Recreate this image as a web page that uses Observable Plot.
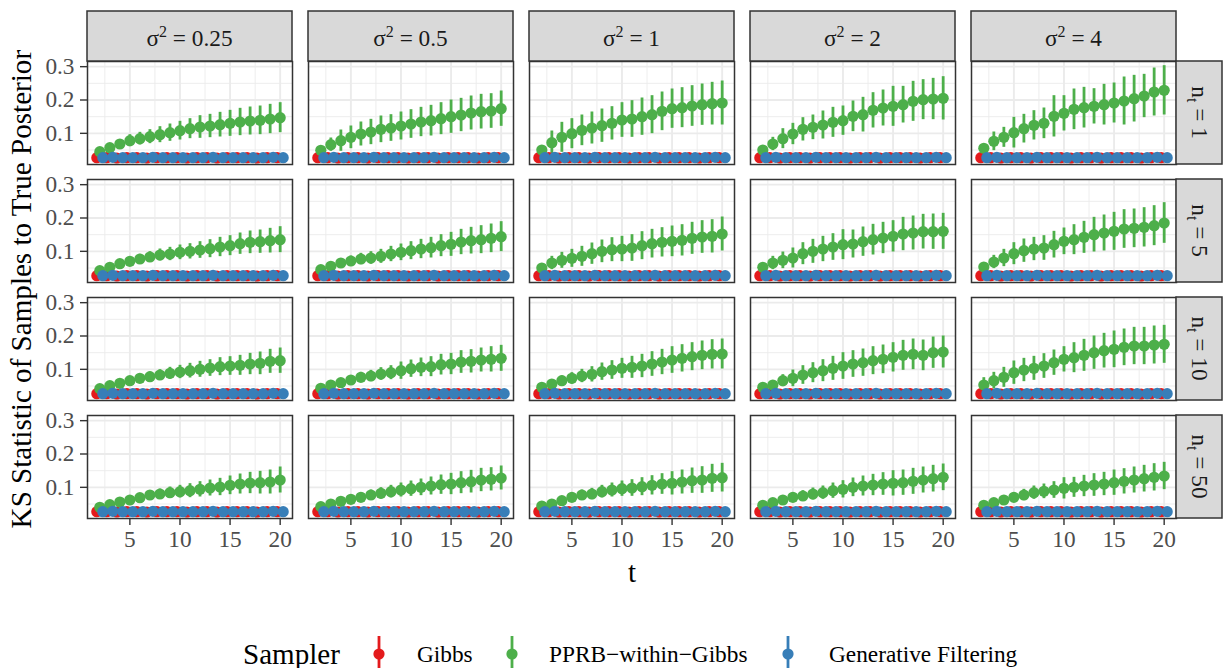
<!DOCTYPE html>
<html><head><meta charset="utf-8">
<script src="https://cdn.jsdelivr.net/npm/d3@7"></script>
<script src="https://cdn.jsdelivr.net/npm/@observablehq/plot@0.6"></script>
<style>
html,body{margin:0;padding:0;background:#fff;overflow:hidden;}
body{width:1225px;height:668px;font-family:"Liberation Serif",serif;}
#chart svg{display:block;}
#legend{position:relative;width:1225px;height:56px;}
#legend .item{position:absolute;top:0;height:56px;display:flex;align-items:center;white-space:nowrap;color:#000;}
</style></head><body>
<div id="chart"></div><div id="legend"></div>
<script>
// ---- categories / ticks ----
const sigmaLevels = ["0.25", "0.5", "1", "2", "4"];
const nLevels = ["1", "5", "10", "50"];
const tValues = [2, 3, 4, 5, 6, 7, 8, 9, 10, 11, 12, 13, 14, 15, 16, 17, 18, 19, 20];
const samplers = ["Gibbs", "PPRB\u2212within\u2212Gibbs", "Generative Filtering"];
const samplerColors = ["#E41A1C", "#4DAF4A", "#377EB8"];
const xTicks = [5, 10, 15, 20];
const xMinor = [2.5, 7.5, 12.5, 17.5];
const yTicks = [0.1, 0.2, 0.3];
const yMinor = [0.05, 0.15, 0.25];

// ---- Gibbs & Generative Filtering (same in every panel) ----
const gibbsMean = [0.027,0.027,0.026,0.027,0.027,0.026,0.027,0.027,0.027,0.026,0.027,0.027,0.026,0.027,0.027,0.027,0.026,0.027,0.027];
const gibbsErr  = [0.001,0.001,0.001,0.001,0.001,0.001,0.001,0.001,0.001,0.001,0.001,0.001,0.001,0.001,0.001,0.001,0.001,0.001,0.001];
const gfMean    = [0.027,0.028,0.027,0.027,0.027,0.028,0.027,0.027,0.027,0.027,0.027,0.028,0.027,0.027,0.027,0.027,0.027,0.028,0.027];
const gfErr     = [0.001,0.001,0.001,0.001,0.001,0.001,0.001,0.001,0.001,0.001,0.001,0.001,0.001,0.001,0.001,0.001,0.001,0.001,0.001];

// ---- PPRB-within-Gibbs means / half-widths, one row per sigma^2 (0.25, 0.5, 1, 2, 4) ----
const pprbMeanN1 = [
  [0.045,0.057,0.068,0.078,0.084,0.090,0.096,0.102,0.108,0.114,0.119,0.122,0.126,0.130,0.134,0.137,0.139,0.143,0.147],
  [0.049,0.066,0.078,0.088,0.098,0.104,0.112,0.116,0.122,0.128,0.134,0.138,0.144,0.150,0.155,0.161,0.165,0.167,0.174],
  [0.050,0.072,0.088,0.099,0.109,0.116,0.123,0.130,0.140,0.143,0.150,0.156,0.166,0.174,0.177,0.182,0.186,0.189,0.191],
  [0.050,0.068,0.084,0.098,0.112,0.118,0.125,0.133,0.138,0.151,0.156,0.169,0.176,0.181,0.186,0.196,0.201,0.203,0.205],
  [0.055,0.076,0.088,0.102,0.114,0.124,0.130,0.151,0.160,0.172,0.177,0.181,0.186,0.191,0.197,0.204,0.212,0.224,0.229]
];
const pprbErrN1 = [
  [0.005,0.008,0.013,0.018,0.019,0.021,0.024,0.026,0.028,0.030,0.034,0.035,0.037,0.039,0.041,0.042,0.043,0.044,0.045],
  [0.010,0.020,0.032,0.034,0.036,0.038,0.040,0.040,0.042,0.043,0.044,0.046,0.048,0.050,0.050,0.051,0.052,0.052,0.053],
  [0.012,0.035,0.045,0.045,0.046,0.048,0.050,0.050,0.052,0.055,0.056,0.057,0.058,0.059,0.060,0.061,0.062,0.064,0.066],
  [0.010,0.020,0.030,0.032,0.035,0.037,0.042,0.045,0.044,0.046,0.052,0.053,0.054,0.060,0.055,0.060,0.060,0.062,0.065],
  [0.012,0.028,0.030,0.046,0.043,0.044,0.046,0.062,0.053,0.061,0.061,0.053,0.061,0.060,0.072,0.070,0.065,0.072,0.074]
];
const pprbMeanN5 = [
  [0.042,0.052,0.063,0.070,0.077,0.083,0.089,0.092,0.097,0.100,0.104,0.108,0.113,0.117,0.123,0.127,0.129,0.132,0.135],
  [0.045,0.055,0.065,0.071,0.077,0.080,0.085,0.092,0.097,0.102,0.107,0.111,0.117,0.121,0.128,0.132,0.135,0.139,0.144],
  [0.050,0.065,0.073,0.079,0.085,0.093,0.100,0.105,0.107,0.110,0.117,0.123,0.127,0.130,0.133,0.139,0.143,0.145,0.152],
  [0.052,0.065,0.073,0.080,0.093,0.100,0.107,0.113,0.120,0.122,0.129,0.135,0.140,0.145,0.152,0.155,0.159,0.159,0.160],
  [0.053,0.068,0.080,0.093,0.102,0.107,0.110,0.120,0.130,0.135,0.142,0.150,0.155,0.160,0.167,0.169,0.172,0.177,0.185]
];
const pprbErrN5 = [
  [0.005,0.007,0.009,0.012,0.014,0.016,0.018,0.020,0.022,0.023,0.025,0.027,0.029,0.030,0.032,0.034,0.035,0.037,0.039],
  [0.006,0.009,0.012,0.015,0.017,0.019,0.021,0.023,0.025,0.027,0.029,0.031,0.033,0.036,0.038,0.040,0.042,0.043,0.045],
  [0.010,0.020,0.024,0.027,0.030,0.032,0.034,0.036,0.038,0.040,0.042,0.043,0.044,0.046,0.047,0.048,0.049,0.050,0.051],
  [0.010,0.020,0.025,0.030,0.033,0.036,0.038,0.040,0.045,0.042,0.044,0.046,0.047,0.047,0.050,0.051,0.052,0.053,0.054],
  [0.010,0.020,0.026,0.033,0.035,0.035,0.037,0.040,0.040,0.045,0.048,0.052,0.054,0.057,0.058,0.058,0.059,0.060,0.061]
];
const pprbMeanN10 = [
  [0.042,0.051,0.058,0.066,0.073,0.078,0.083,0.088,0.092,0.096,0.100,0.104,0.108,0.110,0.112,0.116,0.118,0.124,0.126],
  [0.043,0.053,0.060,0.068,0.076,0.080,0.086,0.090,0.096,0.102,0.106,0.108,0.114,0.116,0.122,0.124,0.128,0.130,0.133],
  [0.046,0.056,0.066,0.073,0.080,0.085,0.093,0.098,0.103,0.106,0.110,0.116,0.122,0.128,0.133,0.138,0.142,0.145,0.146],
  [0.046,0.053,0.066,0.073,0.083,0.090,0.096,0.103,0.110,0.116,0.120,0.126,0.130,0.136,0.142,0.145,0.142,0.150,0.152],
  [0.053,0.066,0.076,0.090,0.098,0.103,0.110,0.120,0.130,0.135,0.142,0.150,0.156,0.160,0.166,0.170,0.170,0.173,0.175]
];
const pprbErrN10 = [
  [0.004,0.006,0.008,0.010,0.012,0.014,0.016,0.018,0.020,0.022,0.024,0.025,0.027,0.028,0.030,0.032,0.034,0.036,0.038],
  [0.005,0.007,0.010,0.013,0.015,0.017,0.019,0.021,0.026,0.026,0.028,0.030,0.031,0.032,0.034,0.035,0.036,0.038,0.039],
  [0.006,0.010,0.014,0.017,0.020,0.023,0.026,0.028,0.030,0.033,0.035,0.037,0.038,0.040,0.041,0.042,0.043,0.044,0.045],
  [0.008,0.012,0.018,0.025,0.028,0.030,0.033,0.036,0.040,0.040,0.041,0.042,0.043,0.044,0.045,0.046,0.046,0.047,0.048],
  [0.022,0.025,0.030,0.035,0.035,0.036,0.037,0.038,0.038,0.045,0.048,0.050,0.052,0.055,0.055,0.056,0.056,0.057,0.057]
];
const pprbMeanN50 = [
  [0.040,0.048,0.056,0.062,0.069,0.077,0.080,0.084,0.087,0.090,0.094,0.098,0.101,0.106,0.110,0.113,0.114,0.116,0.122],
  [0.042,0.050,0.058,0.064,0.070,0.077,0.082,0.087,0.092,0.096,0.100,0.104,0.108,0.110,0.114,0.117,0.122,0.124,0.128],
  [0.044,0.050,0.060,0.070,0.077,0.080,0.087,0.092,0.096,0.098,0.102,0.106,0.110,0.112,0.116,0.120,0.122,0.127,0.129],
  [0.046,0.054,0.062,0.070,0.074,0.080,0.084,0.090,0.094,0.100,0.104,0.107,0.110,0.112,0.114,0.118,0.122,0.126,0.130],
  [0.046,0.054,0.062,0.070,0.077,0.084,0.088,0.092,0.097,0.100,0.104,0.107,0.110,0.114,0.118,0.122,0.126,0.130,0.134]
];
const pprbErrN50 = [
  [0.004,0.006,0.008,0.010,0.012,0.013,0.015,0.017,0.019,0.021,0.023,0.024,0.026,0.028,0.030,0.032,0.034,0.036,0.039],
  [0.004,0.006,0.009,0.011,0.013,0.015,0.017,0.019,0.021,0.023,0.025,0.027,0.029,0.032,0.033,0.034,0.035,0.035,0.036],
  [0.004,0.007,0.010,0.013,0.015,0.017,0.019,0.021,0.023,0.025,0.027,0.029,0.031,0.035,0.036,0.038,0.040,0.042,0.043],
  [0.004,0.007,0.010,0.013,0.016,0.018,0.020,0.023,0.026,0.028,0.030,0.032,0.034,0.038,0.038,0.039,0.039,0.040,0.040],
  [0.005,0.008,0.011,0.014,0.017,0.020,0.022,0.025,0.032,0.030,0.032,0.034,0.035,0.038,0.038,0.039,0.040,0.041,0.041]
];

// ---- build the long table ----
const pprbMeanByN = {"1": pprbMeanN1, "5": pprbMeanN5, "10": pprbMeanN10, "50": pprbMeanN50};
const pprbErrByN = {"1": pprbErrN1, "5": pprbErrN5, "10": pprbErrN10, "50": pprbErrN50};
const dodgeWidth = 0.9; // position_dodge(width = 0.9)
const rows = [];
samplers.forEach((s, si) => {
  const off = (si - 1) * dodgeWidth / samplers.length;
  nLevels.forEach(n => sigmaLevels.forEach((sg, gi) => tValues.forEach((t, ti) => {
    let m, e;
    if (si === 0) { m = gibbsMean[ti]; e = gibbsErr[ti]; }
    else if (si === 2) { m = gfMean[ti]; e = gfErr[ti]; }
    else { m = pprbMeanByN[n][gi][ti]; e = pprbErrByN[n][gi][ti]; }
    rows.push({sampler: s, n, sigma: sg, t, tx: t + off, mean: m, lo: m - e, hi: m + e});
  })));
});

// ---- layout ----
const W = 1225, H = 626;
const mL = 87.3, mR = 48.3, mT = 60, mB = 107.7;
const stripH = 50, stripW = 46;
const FONT = '"Liberation Serif", "Times New Roman", serif';
const LAB = 23.3, TITLE = 29.1;
const DOT_R = 5.6;
const grid = {stroke: "#EBEBEB", strokeOpacity: 1};

const plot = Plot.plot({
  width: W, height: H,
  marginLeft: mL, marginRight: mR, marginTop: mT, marginBottom: mB,
  style: {fontFamily: FONT, fontSize: LAB + "px", background: "white", overflow: "visible"},
  fx: {domain: sigmaLevels, axis: null, paddingInner: 0.0706, paddingOuter: 0},
  fy: {domain: nLevels, axis: null, paddingInner: 0.127, paddingOuter: 0},
  x: {domain: [0.77, 21.23], label: null},
  y: {domain: [0.0065, 0.3155], label: null},
  color: {domain: samplers, range: samplerColors},
  marks: [
    Plot.frame({fill: "white", stroke: "none"}),
    Plot.gridX({ticks: xMinor, ...grid, strokeWidth: 0.9}),
    Plot.gridY({ticks: yMinor, ...grid, strokeWidth: 0.9}),
    Plot.gridX({ticks: xTicks, ...grid, strokeWidth: 1.9}),
    Plot.gridY({ticks: yTicks, ...grid, strokeWidth: 1.9}),
    Plot.ruleX(rows, {fx: "sigma", fy: "n", x: "tx", y1: "lo", y2: "hi", stroke: "sampler", strokeWidth: 2.8}),
    Plot.dot(rows, {fx: "sigma", fy: "n", x: "tx", y: "mean", r: DOT_R, fill: "sampler", stroke: "none"}),
    Plot.frame({stroke: "#333333", strokeWidth: 1.5}),
    Plot.axisX({ticks: xTicks, tickSize: 7, tickPadding: 5, fontSize: LAB, stroke: "#333333", strokeWidth: 1.4,
                fill: "#4D4D4D", label: null, tickFormat: d => String(d)}),
    Plot.axisY({ticks: yTicks, tickSize: 7, tickPadding: 6, fontSize: LAB, stroke: "#333333", strokeWidth: 1.4,
                fill: "#4D4D4D", label: null, tickFormat: d3.format(".1f")})
  ]
});
document.getElementById("chart").appendChild(plot);
const svg = d3.select(plot);

// ---- facet strips, placed with the plot's own facet scales ----
function bandOf(name) {
  const s = plot.scale(name);
  if (s && typeof s.apply === "function") return {pos: v => s.apply(v), bw: s.bandwidth};
  const b = d3.scaleBand(s.domain, s.range).paddingInner(s.paddingInner ?? 0)
    .paddingOuter(s.paddingOuter ?? 0).align(s.align ?? 0.5);
  return {pos: v => b(v), bw: b.bandwidth()};
}
const FX = bandOf("fx"), FY = bandOf("fy");
const strips = svg.append("g").attr("font-family", FONT).attr("font-size", LAB).attr("fill", "#1A1A1A");
sigmaLevels.forEach(sg => {
  const x0 = FX.pos(sg), y0 = FY.pos(nLevels[0]) - stripH;
  strips.append("rect").attr("x", x0).attr("y", y0).attr("width", FX.bw).attr("height", stripH)
    .attr("fill", "#D9D9D9").attr("stroke", "#333333").attr("stroke-width", 1.5);
  const txt = strips.append("text").attr("x", x0 + FX.bw / 2).attr("y", y0 + 35).attr("text-anchor", "middle");
  txt.append("tspan").text("\u03C3");
  txt.append("tspan").attr("font-size", 16).attr("dy", -9).text("2");
  txt.append("tspan").attr("dy", 9).text(" = " + sg);
});
nLevels.forEach(n => {
  const x0 = FX.pos(sigmaLevels[sigmaLevels.length - 1]) + FX.bw, y0 = FY.pos(n);
  strips.append("rect").attr("x", x0).attr("y", y0).attr("width", stripW).attr("height", FY.bw)
    .attr("fill", "#D9D9D9").attr("stroke", "#333333").attr("stroke-width", 1.5);
  const txt = strips.append("text")
    .attr("transform", `translate(${x0 + stripW / 2},${y0 + FY.bw / 2}) rotate(90)`)
    .attr("text-anchor", "middle").attr("dy", "0.32em");
  txt.append("tspan").text("n");
  txt.append("tspan").attr("font-size", 16).attr("dy", 5).text("t");
  txt.append("tspan").attr("dy", -5).text(" = " + n);
});

// ---- axis titles ----
const panelsCx = (mL + W - mR) / 2, panelsCy = (mT + H - mB) / 2;
svg.append("text").attr("x", panelsCx).attr("y", 582).attr("text-anchor", "middle")
  .attr("font-family", FONT).attr("font-size", TITLE).attr("fill", "#000").text("t");
svg.append("text").attr("transform", `translate(31,${panelsCy}) rotate(-90)`).attr("text-anchor", "middle")
  .attr("font-family", FONT).attr("font-size", TITLE).attr("fill", "#000")
  .text("KS Statistic of Samples to True Posterior");

// ---- legend ----
const legend = d3.select("#legend");
legend.append("div").attr("class", "item").style("left", "243px").style("font-size", TITLE + "px").text("Sampler");
const glyphX = [379, 512, 788];
const labelX = [417, 549, 829];
samplers.forEach((s, i) => {
  const item = legend.append("div").attr("class", "item").style("left", (glyphX[i] - 10) + "px");
  const gs = item.append("svg").attr("width", 20).attr("height", 56);
  gs.append("line").attr("x1", 10).attr("x2", 10).attr("y1", 10).attr("y2", 46)
    .attr("stroke", samplerColors[i]).attr("stroke-width", 2.8);
  gs.append("circle").attr("cx", 10).attr("cy", 28).attr("r", DOT_R).attr("fill", samplerColors[i]);
  legend.append("div").attr("class", "item").style("left", labelX[i] + "px").style("font-size", LAB + "px").text(s);
});
</script></body></html>
